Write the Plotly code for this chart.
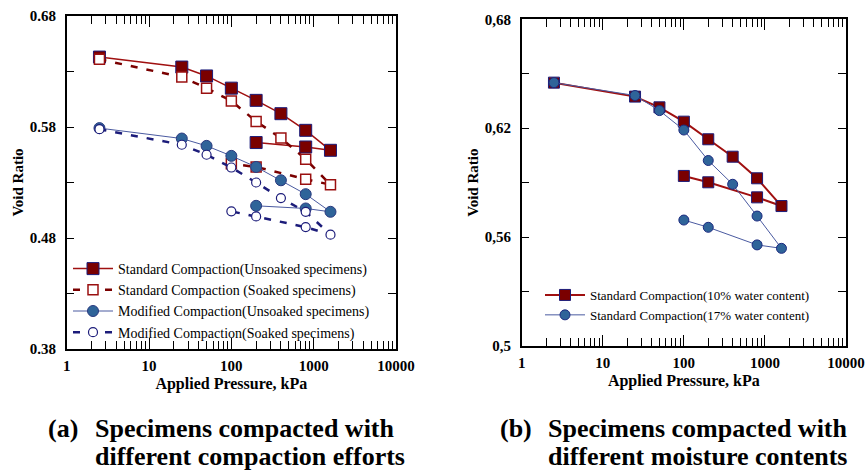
import plotly.graph_objects as go

# ---------- data (a) ----------
pressure_load_unload = [2.5, 25, 50, 100, 200, 400, 800, 1600, 800, 200]
std_unsoaked = [0.643, 0.634, 0.626, 0.615, 0.604, 0.592, 0.577, 0.559, 0.562, 0.566]

pressure_soaked_std = [2.5, 25, 50, 100, 200, 400, 800, 1600, 800, 200, 100]
std_soaked = [0.641, 0.625, 0.615, 0.6035, 0.585, 0.570, 0.551, 0.528, 0.533, 0.544, 0.547]

mod_unsoaked = [0.579, 0.5696, 0.563, 0.554, 0.544, 0.532, 0.5195, 0.5036, 0.5066, 0.509]

pressure_soaked_mod = [2.5, 25, 50, 100, 200, 400, 800, 1600, 800, 200, 100]
mod_soaked = [0.578, 0.564, 0.555, 0.5435, 0.530, 0.516, 0.5036, 0.483, 0.4898, 0.4994, 0.504]

# ---------- data (b) ----------
pressure_b = [2.5, 25, 50, 100, 200, 400, 800, 1600, 800, 200, 100]
wc10 = [0.6451, 0.6374, 0.6315, 0.6236, 0.6139, 0.6043, 0.5924, 0.5771, 0.5819, 0.5902, 0.5937]
wc17 = [0.6451, 0.638, 0.6297, 0.619, 0.6022, 0.5891, 0.5716, 0.5538, 0.5557, 0.5654, 0.5694]

x_tickvals = [1, 10, 100, 1000, 10000]
x_ticktext = ["1", "10", "100", "1000", "10000"]
ya_tickvals = [0.38, 0.43, 0.48, 0.53, 0.58, 0.63, 0.68]
ya_ticktext = ["0.38", "", "0.48", "", "0.58", "", "0.68"]
yb_tickvals = [0.50, 0.53, 0.56, 0.59, 0.62, 0.65, 0.68]
yb_ticktext = ["0,5", "", "0,56", "", "0,62", "", "0,68"]

legend_a = ["Standard Compaction(Unsoaked specimens)",
            "Standard Compaction (Soaked specimens)",
            "Modified Compaction(Unsoaked specimens)",
            "Modified Compaction(Soaked specimens)"]
legend_b = ["Standard Compaction(10% water content)",
            "Standard Compaction(17% water content)"]
caption_a = ["Specimens compacted with", "different compaction efforts"]
caption_b = ["Specimens compacted with", "different moisture contents"]

minor_vals = [m * 10 ** k for k in range(4) for m in range(2, 10)]

DARKRED = "#7a0000"
NAVY = "#1c1c7a"
BLUE = "#2f6499"
SERIF = "Liberation Serif"

fig = go.Figure()

# (a)
fig.add_trace(go.Scatter(x=pressure_load_unload, y=std_unsoaked, name=legend_a[0],
    mode="lines+markers", line=dict(color="#a01010", width=1.5),
    marker=dict(symbol="square", size=12, color=DARKRED, line=dict(color=NAVY, width=1)),
    xaxis="x", yaxis="y", legend="legend"))
fig.add_trace(go.Scatter(x=pressure_soaked_std, y=std_soaked, name=legend_a[1],
    mode="lines+markers", line=dict(color=DARKRED, width=2.5, dash="7px,9px"),
    marker=dict(symbol="square", size=10, color="white", line=dict(color="#9a1010", width=1.5)),
    xaxis="x", yaxis="y", legend="legend"))
fig.add_trace(go.Scatter(x=pressure_load_unload, y=mod_unsoaked, name=legend_a[2],
    mode="lines+markers", line=dict(color="#4a5aa0", width=1),
    marker=dict(symbol="circle", size=11, color=BLUE, line=dict(color="#2a3a80", width=1)),
    xaxis="x", yaxis="y", legend="legend"))
fig.add_trace(go.Scatter(x=pressure_soaked_mod, y=mod_soaked, name=legend_a[3],
    mode="lines+markers", line=dict(color=NAVY, width=2.5, dash="7px,9px"),
    marker=dict(symbol="circle", size=9, color="white", line=dict(color=NAVY, width=1.2)),
    xaxis="x", yaxis="y", legend="legend"))

# (b)
fig.add_trace(go.Scatter(x=pressure_b, y=wc10, name=legend_b[0],
    mode="lines+markers", line=dict(color="#a01010", width=2),
    marker=dict(symbol="square", size=11, color=DARKRED, line=dict(color=NAVY, width=1)),
    xaxis="x2", yaxis="y2", legend="legend2"))
fig.add_trace(go.Scatter(x=pressure_b, y=wc17, name=legend_b[1],
    mode="lines+markers", line=dict(color="#4a5aa0", width=1),
    marker=dict(symbol="circle", size=10, color=BLUE, line=dict(color="#1c2a80", width=1)),
    xaxis="x2", yaxis="y2", legend="legend2"))

W, H = 865, 471

def xax(domain, anchor):
    return dict(type="log", range=[0, 4], domain=domain, anchor=anchor, automargin=False,
                tickvals=x_tickvals, ticktext=["<b>%s</b>" % t for t in x_ticktext],
                ticks="inside", ticklen=11, tickwidth=1, tickcolor="black",
                minor=dict(tickvals=minor_vals, ticks="inside", ticklen=8, tickwidth=1,
                           tickcolor="black", showgrid=False),
                showline=True, linecolor="black", linewidth=1.5, mirror="ticks",
                showgrid=False, zeroline=False,
                tickfont=dict(family=SERIF, size=15, color="black"),
                ticklabelstandoff=2,
                title=dict(text="<b>Applied Pressure, kPa</b>", standoff=5,
                           font=dict(family=SERIF, size=16, color="black")))

def yax(domain, anchor, rng, tv, tt):
    return dict(range=rng, domain=domain, anchor=anchor, automargin=False,
                tickvals=tv, ticktext=["<b>%s</b>" % t if t else "" for t in tt],
                ticks="inside", ticklen=8, tickwidth=1, tickcolor="black",
                showline=True, linecolor="black", linewidth=1.5, mirror="ticks",
                showgrid=False, zeroline=False,
                tickfont=dict(family=SERIF, size=15, color="black"),
                ticklabelstandoff=6,
                title=dict(text="<b>Void Ratio</b>", standoff=2,
                           font=dict(family=SERIF, size=15, color="black")))

xa = xax([66.7 / W, 396 / W], "y")
xb = xax([521.7 / W, 846 / W], "y2")
ya = yax([1 - 349 / H, 1 - 16 / H], "x", [0.38, 0.68], ya_tickvals, ya_ticktext)
yb = yax([1 - 346 / H, 1 - 19.3 / H], "x2", [0.50, 0.68], yb_tickvals, yb_ticktext)

def cap(text, x, y):
    return dict(text="<b>%s</b>" % text, x=x / W, y=1 - y / H, xref="paper", yref="paper",
                xanchor="left", yanchor="middle", align="left", showarrow=False,
                font=dict(family=SERIF, size=26, color="black"))

fig.update_layout(
    width=W, height=H, margin=dict(l=0, r=0, t=0, b=0, autoexpand=False),
    paper_bgcolor="white", plot_bgcolor="white",
    xaxis=xa, yaxis=ya, xaxis2=xb, yaxis2=yb,
    legend=dict(x=68 / W, y=1 - 253 / H, xanchor="left", yanchor="top",
                bgcolor="rgba(0,0,0,0)", tracegroupgap=0, itemwidth=40,
                font=dict(family=SERIF, size=14, color="black")),
    legend2=dict(x=540 / W, y=1 - 280 / H, xanchor="left", yanchor="top",
                 bgcolor="rgba(0,0,0,0)", tracegroupgap=0, itemwidth=40,
                 font=dict(family=SERIF, size=13, color="black")),
    annotations=[
        cap("(a)", 46, 428), cap(caption_a[0], 93, 428), cap(caption_a[1], 93, 456),
        cap("(b)", 498, 428), cap(caption_b[0], 546, 428), cap(caption_b[1], 546, 456),
    ],
)

fig.write_html("out.html", config={"displayModeBar": False},
               post_script="document.body.style.margin='0px';")
